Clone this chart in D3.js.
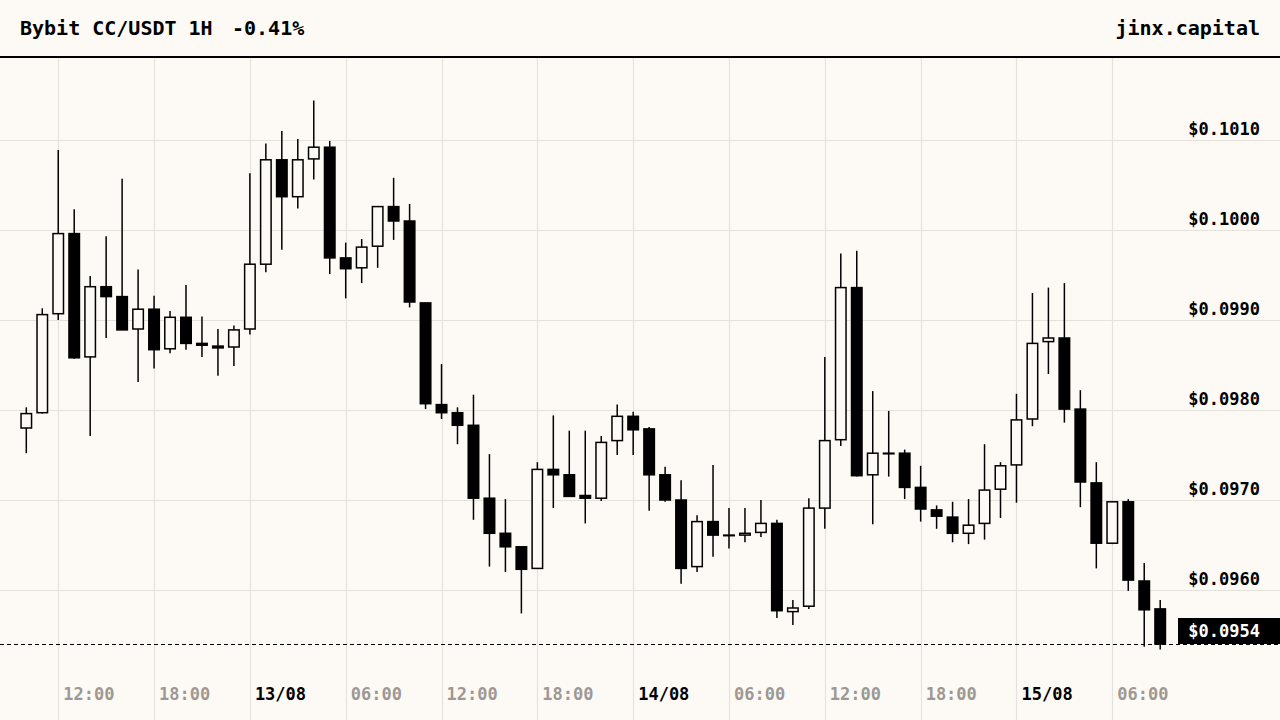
<!DOCTYPE html>
<html>
<head>
<meta charset="utf-8">
<script src="https://cdn.jsdelivr.net/npm/d3@7"></script>
<style>
  html, body { margin: 0; padding: 0; background: #fdfaf5; }
  svg { display: block; font-family: "DejaVu Sans Mono", monospace; font-weight: bold; }
</style>
</head>
<body>
<svg id="drawing_region"></svg>
<script>
// hourly candles, Bybit CC/USDT, starting 12/08 10:00
const startTime = Date.UTC(2025, 7, 12, 10);
const opens  = [0.09780,0.09797,0.09907,0.09996,0.09859,0.09937,0.09926,0.09890,0.09912,0.09868,
                0.09903,0.09874,0.09871,0.09870,0.09890,0.09962,0.10078,0.10037,0.10079,0.10092,
                0.09969,0.09958,0.09982,0.10026,0.10010,0.09919,0.09806,0.09797,0.09783,0.09702,
                0.09663,0.09648,0.09624,0.09734,0.09728,0.09705,0.09702,0.09766,0.09793,0.09779,
                0.09728,0.09700,0.09626,0.09676,0.09661,0.09661,0.09664,0.09674,0.09576,0.09582,
                0.09691,0.09767,0.09936,0.09728,0.09752,0.09752,0.09714,0.09689,0.09681,0.09663,
                0.09674,0.09712,0.09739,0.09790,0.09876,0.09880,0.09801,0.09719,0.09652,0.09698,
                0.09610,0.09579];
const highs  = [0.09803,0.09913,0.10089,0.10023,0.09949,0.09993,0.10057,0.09956,0.09927,0.09910,
                0.09939,0.09904,0.09890,0.09894,0.10063,0.10096,0.10110,0.10101,0.10144,0.10099,
                0.09986,0.09990,0.10026,0.10058,0.10029,0.09919,0.09851,0.09803,0.09817,0.09751,
                0.09701,0.09648,0.09742,0.09794,0.09777,0.09777,0.09771,0.09806,0.09798,0.09781,
                0.09737,0.09722,0.09683,0.09739,0.09691,0.09691,0.09700,0.09678,0.09589,0.09702,
                0.09859,0.09974,0.09977,0.09821,0.09799,0.09756,0.09738,0.09694,0.09698,0.09701,
                0.09762,0.09742,0.09818,0.09930,0.09936,0.09941,0.09822,0.09742,0.09699,0.09701,
                0.09630,0.09589];
const lows   = [0.09752,0.09796,0.09900,0.09857,0.09771,0.09880,0.09889,0.09831,0.09846,0.09863,
                0.09867,0.09859,0.09838,0.09849,0.09884,0.09953,0.09978,0.10024,0.10056,0.09951,
                0.09924,0.09941,0.09958,0.09989,0.09914,0.09801,0.09790,0.09762,0.09678,0.09626,
                0.09620,0.09574,0.09624,0.09691,0.09704,0.09674,0.09699,0.09750,0.09750,0.09688,
                0.09698,0.09607,0.09620,0.09637,0.09646,0.09653,0.09659,0.09569,0.09561,0.09579,
                0.09668,0.09760,0.09726,0.09673,0.09726,0.09701,0.09676,0.09668,0.09653,0.09651,
                0.09656,0.09680,0.09697,0.09782,0.09840,0.09786,0.09692,0.09624,0.09651,0.09599,
                0.09537,0.09534];
const closes = [0.09796,0.09906,0.09996,0.09858,0.09937,0.09926,0.09889,0.09912,0.09867,0.09903,
                0.09874,0.09872,0.09869,0.09889,0.09962,0.10078,0.10037,0.10078,0.10092,0.09969,
                0.09957,0.09981,0.10026,0.10010,0.09920,0.09807,0.09797,0.09783,0.09702,0.09663,
                0.09648,0.09623,0.09734,0.09728,0.09704,0.09702,0.09764,0.09793,0.09778,0.09728,
                0.09700,0.09624,0.09676,0.09661,0.09661,0.09663,0.09674,0.09577,0.09580,0.09691,
                0.09766,0.09936,0.09727,0.09752,0.09752,0.09714,0.09690,0.09682,0.09663,0.09672,
                0.09711,0.09738,0.09789,0.09874,0.09880,0.09801,0.09720,0.09652,0.09698,0.09611,
                0.09578,0.09540];

const priceTicks = [0.0960, 0.0970, 0.0980, 0.0990, 0.1000, 0.1010];
const timeTicks  = ['2025-08-12T12:00Z','2025-08-12T18:00Z','2025-08-13T00:00Z','2025-08-13T06:00Z',
                    '2025-08-13T12:00Z','2025-08-13T18:00Z','2025-08-14T00:00Z','2025-08-14T06:00Z',
                    '2025-08-14T12:00Z','2025-08-14T18:00Z','2025-08-15T00:00Z','2025-08-15T06:00Z'];
const timeLabels = ['12:00','18:00','13/08','06:00','12:00','18:00','14/08','06:00','12:00','18:00','15/08','06:00'];

const title = 'Bybit CC/USDT 1H';
const change = '-0.41%';
const brand = 'jinx.capital';

const W = 1280, H = 720;
const BG = '#fdfaf5', GRID = '#e5e1db', INK = '#000000', MUTED = '#9d9893';

const candles = opens.map((o, i) => ({
    t: new Date(startTime + i * 3600 * 1000),
    o: o, h: highs[i], l: lows[i], c: closes[i]
}));
const lastPrice = closes[closes.length - 1];

const svg = d3.select('#drawing_region')
    .attr('width', W)
    .attr('height', H);

svg.append('rect')
    .attr('width', W).attr('height', H)
    .attr('fill', BG);

const xscale = d3.scaleUtc()
    .domain([candles[0].t, candles[candles.length - 1].t])
    .range([26.3, 1160.2]);

const yscale = d3.scaleLinear()
    .domain([0.1010, 0.0960])
    .range([140, 590]);

// grid
const grid = svg.append('g');
grid.selectAll('line.v')
    .data(timeTicks)
    .join('line')
    .attr('class', 'v')
    .attr('x1', d => Math.round(xscale(new Date(d))) + 0.5)
    .attr('x2', d => Math.round(xscale(new Date(d))) + 0.5)
    .attr('y1', 58).attr('y2', H)
    .attr('stroke', GRID).attr('stroke-width', 1.2);

grid.selectAll('line.h')
    .data(priceTicks)
    .join('line')
    .attr('class', 'h')
    .attr('x1', 0).attr('x2', W)
    .attr('y1', d => Math.round(yscale(d)) + 0.5)
    .attr('y2', d => Math.round(yscale(d)) + 0.5)
    .attr('stroke', GRID).attr('stroke-width', 1.2);

// candles
const bodyW = 10.5;
const cg = svg.append('g');
const candle = cg.selectAll('g')
    .data(candles)
    .join('g')
    .attr('transform', d => `translate(${xscale(d.t)},0)`);

candle.append('line')
    .attr('y1', d => yscale(d.h))
    .attr('y2', d => yscale(d.l))
    .attr('stroke', INK)
    .attr('stroke-width', 1.5);

candle.append('rect')
    .attr('x', -bodyW / 2)
    .attr('width', bodyW)
    .attr('y', d => yscale(Math.max(d.o, d.c)))
    .attr('height', d => Math.max(0.6, Math.abs(yscale(d.o) - yscale(d.c))))
    .attr('fill', d => d.c >= d.o ? BG : INK)
    .attr('stroke', INK)
    .attr('stroke-width', 1.5);

// last price line
svg.append('line')
    .attr('x1', 0).attr('x2', W)
    .attr('y1', yscale(lastPrice) + 0.5).attr('y2', yscale(lastPrice) + 0.5)
    .attr('stroke', INK)
    .attr('stroke-width', 1)
    .attr('stroke-dasharray', '4,3');

// price axis labels
svg.append('g')
    .selectAll('text')
    .data(priceTicks)
    .join('text')
    .attr('x', 1260)
    .attr('y', d => yscale(d) - 5)
    .attr('text-anchor', 'end')
    .attr('font-size', 17)
    .attr('fill', INK)
    .text(d => '$' + d.toFixed(4));

const tag = svg.append('g');
tag.append('rect')
    .attr('x', 1178).attr('y', yscale(lastPrice) - 26)
    .attr('width', W - 1178).attr('height', 26)
    .attr('fill', INK);
tag.append('text')
    .attr('x', 1260)
    .attr('y', yscale(lastPrice) - 7)
    .attr('text-anchor', 'end')
    .attr('font-size', 17)
    .attr('fill', '#ffffff')
    .text('$' + lastPrice.toFixed(4));

// time axis labels
svg.append('g')
    .selectAll('text')
    .data(timeTicks)
    .join('text')
    .attr('x', d => xscale(new Date(d)) + 5)
    .attr('y', 700)
    .attr('font-size', 17)
    .attr('fill', (d, i) => timeLabels[i].includes('/') ? INK : MUTED)
    .text((d, i) => timeLabels[i]);

// header
svg.append('rect')
    .attr('x', 0).attr('y', 0)
    .attr('width', W).attr('height', 56)
    .attr('fill', BG);
svg.append('line')
    .attr('x1', 0).attr('x2', W)
    .attr('y1', 57).attr('y2', 57)
    .attr('stroke', INK).attr('stroke-width', 2);
svg.append('text')
    .attr('x', 20).attr('y', 35)
    .attr('font-size', 20)
    .attr('fill', INK)
    .text(title);
svg.append('text')
    .attr('x', 232).attr('y', 35)
    .attr('font-size', 20)
    .attr('fill', INK)
    .text(change);
svg.append('text')
    .attr('x', 1260).attr('y', 35)
    .attr('text-anchor', 'end')
    .attr('font-size', 20)
    .attr('fill', INK)
    .text(brand);
</script>
</body>
</html>
